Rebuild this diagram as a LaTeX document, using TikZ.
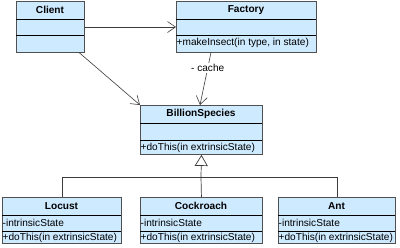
\documentclass[tikz,border=0pt]{standalone}
\usepackage{fontspec}
\setmainfont{Liberation Sans}
\usetikzlibrary{arrows.meta,calc}
\definecolor{clsfill}{RGB}{206,234,255}
\definecolor{clsborder}{RGB}{80,80,80}
\definecolor{linegray}{RGB}{60,60,60}
\tikzset{
  x=1pt,y=-1pt,
  clsbox/.style={draw=clsborder,fill=clsfill,line width=0.9pt,inner sep=0pt,anchor=north west},
  divider/.style={draw=black,line width=0.7pt},
  title/.style={font=\fontsize{10.1}{11}\selectfont\bfseries,inner sep=0pt},
  member/.style={font=\fontsize{10.1}{11}\selectfont,inner sep=0pt,anchor=west},
  assoc/.style={draw=linegray,line width=0.6pt,-{Straight Barb[length=8pt,width=11pt]}},
  genline/.style={draw=linegray,line width=0.7pt},
}
\begin{document}
\begin{tikzpicture}
\useasboundingbox (0,0) rectangle (400,247);
\fill[white] (0,0) rectangle (400,247);
% Client
\node[clsbox,minimum width=68pt,minimum height=51pt] (client) at (16,0.5) {};
\draw[divider] (16,19) -- (84,19);
\draw[divider] (16,35) -- (84,35);
\node[title] (clientT) at (50,10) {Client};
% Factory
\node[clsbox,minimum width=140pt,minimum height=51pt] (factory) at (176,0.5) {};
\draw[divider] (176,19) -- (316,19);
\draw[divider] (176,35) -- (316,35);
\node[title] (factoryT) at (246,10) {Factory};
\node[member] (factoryO) at (176.5,43) {+makeInsect(in type, in state)};
% BillionSpecies
\node[clsbox,minimum width=122pt,minimum height=49pt] (billion) at (140,105) {};
\draw[divider] (140,123) -- (262,123);
\draw[divider] (140,140) -- (262,140);
\node[title] (billionT) at (201,114) {BillionSpecies};
\node[member] (billionO) at (140.5,147.5) {+doThis(in extrinsicState)};
% Locust
\node[clsbox,minimum width=119pt,minimum height=46pt] (locust) at (2,197) {};
\draw[divider] (2,215) -- (121,215);
\draw[divider] (2,231) -- (121,231);
\node[title] (locustT) at (61.5,206) {Locust};
\node[member] (locustA) at (2.5,223) {-intrinsicState};
\node[member] (locustO) at (2.5,237.5) {+doThis(in extrinsicState)};
% Cockroach
\node[clsbox,minimum width=122pt,minimum height=46pt] (cockroach) at (140,197) {};
\draw[divider] (140,215) -- (262,215);
\draw[divider] (140,231) -- (262,231);
\node[title] (cockroachT) at (201,206) {Cockroach};
\node[member] (cockroachA) at (140.5,223) {-intrinsicState};
\node[member] (cockroachO) at (140.5,237.5) {+doThis(in extrinsicState)};
% Ant
\node[clsbox,minimum width=117pt,minimum height=46pt] (ant) at (278,197) {};
\draw[divider] (278,215) -- (395,215);
\draw[divider] (278,231) -- (395,231);
\node[title] (antT) at (336.5,206) {Ant};
\node[member] (antA) at (278.5,223) {-intrinsicState};
\node[member] (antO) at (278.5,237.5) {+doThis(in extrinsicState)};
% associations
\draw[assoc] (client.east |- 0,27) -- (factory.west |- 0,27);
\draw[assoc] ($(client.south east)+(-6,0)$) -- (billion.north west);
\draw[assoc] ($(factory.south west)+(35,0)$) -- node[fill=white,inner sep=1pt,font=\fontsize{10.1}{11}\selectfont,pos=0.3] (cache) {- cache} (billion.north -| 200,0);
% generalization
\coordinate (junction) at (201,177);
\draw[genline,-{Triangle[open,length=11pt,width=13pt,fill=white]}] (junction) -- (billion.south);
\draw[genline] (locust.north |- junction) -- (ant.north |- junction);
\draw[genline] (locust.north |- junction) -- (locust.north);
\draw[genline] (junction) -- (cockroach.north);
\draw[genline] (ant.north |- junction) -- (ant.north);
\end{tikzpicture}
\end{document}
